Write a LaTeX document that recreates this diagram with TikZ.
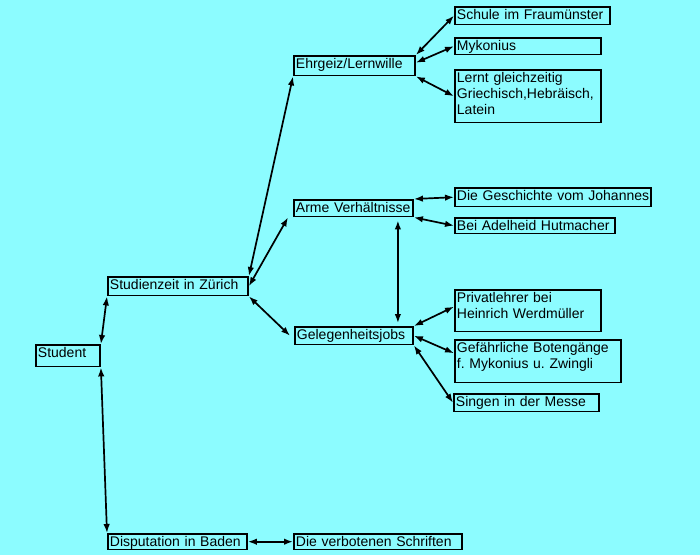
\documentclass[tikz,border=0pt]{standalone}
\usepackage{fontspec}
\setmainfont{Liberation Sans}
\usetikzlibrary{arrows.meta}
\frenchspacing

\definecolor{bgcyan}{RGB}{140,252,255}

\tikzset{
  box/.style={draw, line width=1.9pt, anchor=north west, align=left,
    inner xsep=2pt, inner ysep=0pt, text height=12.5pt},
  link/.style={line width=1.7pt,
    {Latex[length=9pt,width=6.5pt]}-{Latex[length=9pt,width=6.5pt]}}
}

\begin{document}
\begin{tikzpicture}[x=1pt,y=-1pt,font=\fontsize{14}{16}\selectfont]

\fill[bgcyan] (0,0) rectangle (700,555);
\useasboundingbox (0,0) rectangle (700,555);

% left column
\node[box, text width=60, text depth=9] (stud) at (35,344) {Student};
\node[box, text width=136, text depth=6] (zur) at (107,276) {Studienzeit in Zürich};
\node[box, text width=135, text depth=3] (disp) at (107,533) {Disputation in Baden};

% middle column
\node[box, text width=117, text depth=7] (ehr) at (293,55) {Ehrgeiz/Lernwille};
\node[box, text width=115, text depth=4] (arme) at (293,199) {Arme Verhältnisse};
\node[box, text width=114, text depth=5] (gel) at (294,326) {Gelegenheitsjobs};
\node[box, text width=164, text depth=3] (verb) at (293,533) {Die verbotenen Schriften};

% right column
\node[box, text width=151, text depth=5] (schule) at (454,6) {Schule im Fraumünster};
\node[box, text width=142, text depth=4] (myk) at (454,37) {Mykonius};
\node[box, text width=142, text depth=40] (lernt) at (454,69) {Lernt gleichzeitig\\Griechisch,Hebräisch,\\Latein};
\node[box, text width=192, text depth=6] (gesch) at (454,187) {\mbox{Die Geschichte vom Johannes}};
\node[box, text width=156, text depth=3] (adel) at (454,217) {Bei Adelheid Hutmacher};
\node[box, text width=142, text depth=29] (priv) at (454,289) {Privatlehrer bei\\Heinrich Werdmüller};
\node[box, text width=162, text depth=30] (gef) at (454,339) {Gefährliche Botengänge\\f. Mykonius u. Zwingli};
\node[box, text width=141, text depth=5] (sing) at (453,393) {Singen in der Messe};

% connectors
\draw[link] (stud.north east) -- (zur.south west);
\draw[link] (stud.south east) -- (disp.north west);
\draw[link] (zur.north east) -- (ehr.south west);
\draw[link] (zur.east) -- ([xshift=-5pt]arme.south west);
\draw[link] (zur.south east) -- ([xshift=-4pt]gel.west);
\draw[link] (disp.east) -- (verb.west);

\draw[link] (ehr.north east) -- (schule.west);
\draw[link] ([yshift=3pt]ehr.east) -- (myk.west);
\draw[link] (ehr.south east) -- (lernt.west);

\draw[link] (arme.north east) -- (gesch.west);
\draw[link] (arme.south east) -- (adel.west);
\draw[link, shorten <=3pt, shorten >=3pt] ([xshift=-16pt]arme.south east) -- ([xshift=-16pt]gel.north east);

\draw[link] (gel.north east) -- ([yshift=4pt]priv.west);
\draw[link] (gel.east) -- ([yshift=8pt]gef.west);
\draw[link] (gel.south east) -- (sing.west);

\end{tikzpicture}
\end{document}
